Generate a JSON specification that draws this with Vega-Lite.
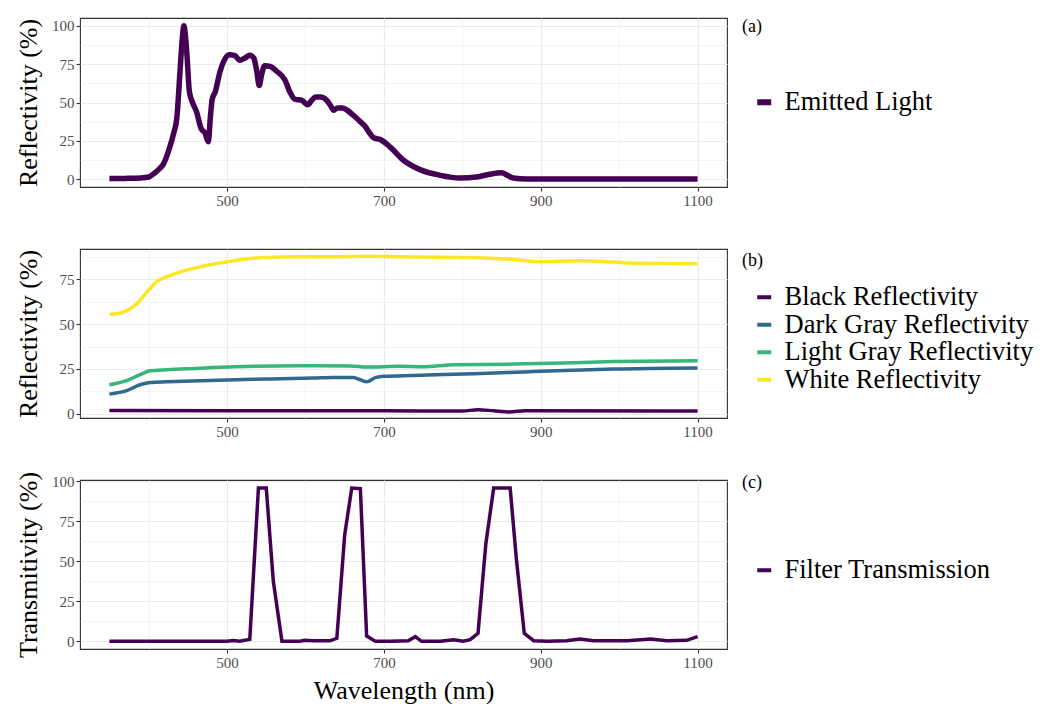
{
  "$schema": "https://vega.github.io/schema/vega-lite/v6.json",
  "background": "white",
  "padding": {"left": 14, "top": 14, "right": 5, "bottom": 0},
  "datasets": {
    "emit": [
      {"wl": 350, "value": 0.5, "series": "Emitted Light"},
      {"wl": 370, "value": 0.6, "series": "Emitted Light"},
      {"wl": 390, "value": 0.9, "series": "Emitted Light"},
      {"wl": 400, "value": 1.5, "series": "Emitted Light"},
      {"wl": 406, "value": 3.5, "series": "Emitted Light"},
      {"wl": 413, "value": 6.5, "series": "Emitted Light"},
      {"wl": 419, "value": 10, "series": "Emitted Light"},
      {"wl": 427, "value": 21, "series": "Emitted Light"},
      {"wl": 432, "value": 30, "series": "Emitted Light"},
      {"wl": 436, "value": 40, "series": "Emitted Light"},
      {"wl": 440, "value": 70, "series": "Emitted Light"},
      {"wl": 443, "value": 92, "series": "Emitted Light"},
      {"wl": 445, "value": 100, "series": "Emitted Light"},
      {"wl": 447, "value": 93, "series": "Emitted Light"},
      {"wl": 449, "value": 80, "series": "Emitted Light"},
      {"wl": 452, "value": 57, "series": "Emitted Light"},
      {"wl": 456, "value": 50, "series": "Emitted Light"},
      {"wl": 461, "value": 44, "series": "Emitted Light"},
      {"wl": 467, "value": 33, "series": "Emitted Light"},
      {"wl": 472, "value": 30, "series": "Emitted Light"},
      {"wl": 476, "value": 24.5, "series": "Emitted Light"},
      {"wl": 479, "value": 42, "series": "Emitted Light"},
      {"wl": 481, "value": 52, "series": "Emitted Light"},
      {"wl": 485, "value": 57, "series": "Emitted Light"},
      {"wl": 491, "value": 70, "series": "Emitted Light"},
      {"wl": 497, "value": 78, "series": "Emitted Light"},
      {"wl": 503, "value": 81, "series": "Emitted Light"},
      {"wl": 510, "value": 80.5, "series": "Emitted Light"},
      {"wl": 516, "value": 77.5, "series": "Emitted Light"},
      {"wl": 523, "value": 79, "series": "Emitted Light"},
      {"wl": 529, "value": 80.8, "series": "Emitted Light"},
      {"wl": 534, "value": 79, "series": "Emitted Light"},
      {"wl": 538, "value": 70, "series": "Emitted Light"},
      {"wl": 541, "value": 61, "series": "Emitted Light"},
      {"wl": 544, "value": 68, "series": "Emitted Light"},
      {"wl": 548, "value": 74, "series": "Emitted Light"},
      {"wl": 555, "value": 73.5, "series": "Emitted Light"},
      {"wl": 563, "value": 70.5, "series": "Emitted Light"},
      {"wl": 574, "value": 64.5, "series": "Emitted Light"},
      {"wl": 580, "value": 57, "series": "Emitted Light"},
      {"wl": 587, "value": 52, "series": "Emitted Light"},
      {"wl": 595, "value": 51.5, "series": "Emitted Light"},
      {"wl": 603, "value": 48.5, "series": "Emitted Light"},
      {"wl": 608, "value": 51.5, "series": "Emitted Light"},
      {"wl": 613, "value": 53.5, "series": "Emitted Light"},
      {"wl": 619, "value": 53.5, "series": "Emitted Light"},
      {"wl": 627, "value": 51.5, "series": "Emitted Light"},
      {"wl": 632, "value": 48, "series": "Emitted Light"},
      {"wl": 636, "value": 45, "series": "Emitted Light"},
      {"wl": 641, "value": 46.5, "series": "Emitted Light"},
      {"wl": 647, "value": 46.5, "series": "Emitted Light"},
      {"wl": 653, "value": 45, "series": "Emitted Light"},
      {"wl": 661, "value": 41.7, "series": "Emitted Light"},
      {"wl": 669, "value": 38, "series": "Emitted Light"},
      {"wl": 676, "value": 34.5, "series": "Emitted Light"},
      {"wl": 682, "value": 30, "series": "Emitted Light"},
      {"wl": 687, "value": 27, "series": "Emitted Light"},
      {"wl": 695, "value": 26, "series": "Emitted Light"},
      {"wl": 708, "value": 21, "series": "Emitted Light"},
      {"wl": 725, "value": 12.4, "series": "Emitted Light"},
      {"wl": 746, "value": 6.3, "series": "Emitted Light"},
      {"wl": 772, "value": 2.6, "series": "Emitted Light"},
      {"wl": 797, "value": 0.9, "series": "Emitted Light"},
      {"wl": 818, "value": 1.5, "series": "Emitted Light"},
      {"wl": 835, "value": 3.3, "series": "Emitted Light"},
      {"wl": 850, "value": 4.2, "series": "Emitted Light"},
      {"wl": 858, "value": 2.5, "series": "Emitted Light"},
      {"wl": 865, "value": 0.8, "series": "Emitted Light"},
      {"wl": 882, "value": 0.2, "series": "Emitted Light"},
      {"wl": 900, "value": 0.2, "series": "Emitted Light"},
      {"wl": 950, "value": 0.2, "series": "Emitted Light"},
      {"wl": 1000, "value": 0.2, "series": "Emitted Light"},
      {"wl": 1050, "value": 0.2, "series": "Emitted Light"},
      {"wl": 1100, "value": 0.2, "series": "Emitted Light"}
    ],
    "refl": [
      {"wl": 350, "value": 1.9, "series": "Black Reflectivity"},
      {"wl": 500, "value": 1.8, "series": "Black Reflectivity"},
      {"wl": 700, "value": 1.7, "series": "Black Reflectivity"},
      {"wl": 800, "value": 1.6, "series": "Black Reflectivity"},
      {"wl": 820, "value": 2.3, "series": "Black Reflectivity"},
      {"wl": 840, "value": 1.7, "series": "Black Reflectivity"},
      {"wl": 860, "value": 1.1, "series": "Black Reflectivity"},
      {"wl": 880, "value": 1.7, "series": "Black Reflectivity"},
      {"wl": 1100, "value": 1.6, "series": "Black Reflectivity"},
      {"wl": 350, "value": 11, "series": "Dark Gray Reflectivity"},
      {"wl": 372, "value": 12.9, "series": "Dark Gray Reflectivity"},
      {"wl": 389, "value": 16.2, "series": "Dark Gray Reflectivity"},
      {"wl": 402, "value": 17.5, "series": "Dark Gray Reflectivity"},
      {"wl": 423, "value": 17.9, "series": "Dark Gray Reflectivity"},
      {"wl": 466, "value": 18.5, "series": "Dark Gray Reflectivity"},
      {"wl": 551, "value": 19.4, "series": "Dark Gray Reflectivity"},
      {"wl": 610, "value": 20, "series": "Dark Gray Reflectivity"},
      {"wl": 636, "value": 20.3, "series": "Dark Gray Reflectivity"},
      {"wl": 661, "value": 20.3, "series": "Dark Gray Reflectivity"},
      {"wl": 670, "value": 19, "series": "Dark Gray Reflectivity"},
      {"wl": 678, "value": 17.9, "series": "Dark Gray Reflectivity"},
      {"wl": 690, "value": 20.3, "series": "Dark Gray Reflectivity"},
      {"wl": 700, "value": 20.9, "series": "Dark Gray Reflectivity"},
      {"wl": 737, "value": 21.4, "series": "Dark Gray Reflectivity"},
      {"wl": 801, "value": 22.2, "series": "Dark Gray Reflectivity"},
      {"wl": 857, "value": 23, "series": "Dark Gray Reflectivity"},
      {"wl": 899, "value": 23.7, "series": "Dark Gray Reflectivity"},
      {"wl": 993, "value": 25, "series": "Dark Gray Reflectivity"},
      {"wl": 1100, "value": 25.6, "series": "Dark Gray Reflectivity"},
      {"wl": 350, "value": 16.2, "series": "Light Gray Reflectivity"},
      {"wl": 372, "value": 18.5, "series": "Light Gray Reflectivity"},
      {"wl": 389, "value": 21.8, "series": "Light Gray Reflectivity"},
      {"wl": 402, "value": 24, "series": "Light Gray Reflectivity"},
      {"wl": 423, "value": 24.6, "series": "Light Gray Reflectivity"},
      {"wl": 466, "value": 25.4, "series": "Light Gray Reflectivity"},
      {"wl": 508, "value": 26.3, "series": "Light Gray Reflectivity"},
      {"wl": 593, "value": 26.8, "series": "Light Gray Reflectivity"},
      {"wl": 657, "value": 26.7, "series": "Light Gray Reflectivity"},
      {"wl": 678, "value": 26.1, "series": "Light Gray Reflectivity"},
      {"wl": 721, "value": 26.5, "series": "Light Gray Reflectivity"},
      {"wl": 750, "value": 26.2, "series": "Light Gray Reflectivity"},
      {"wl": 789, "value": 27.4, "series": "Light Gray Reflectivity"},
      {"wl": 865, "value": 27.7, "series": "Light Gray Reflectivity"},
      {"wl": 899, "value": 28, "series": "Light Gray Reflectivity"},
      {"wl": 993, "value": 29.1, "series": "Light Gray Reflectivity"},
      {"wl": 1100, "value": 29.6, "series": "Light Gray Reflectivity"},
      {"wl": 350, "value": 55.4, "series": "White Reflectivity"},
      {"wl": 368, "value": 56.7, "series": "White Reflectivity"},
      {"wl": 385, "value": 61.4, "series": "White Reflectivity"},
      {"wl": 398, "value": 67.9, "series": "White Reflectivity"},
      {"wl": 410, "value": 73.5, "series": "White Reflectivity"},
      {"wl": 423, "value": 76.3, "series": "White Reflectivity"},
      {"wl": 444, "value": 79.5, "series": "White Reflectivity"},
      {"wl": 466, "value": 81.9, "series": "White Reflectivity"},
      {"wl": 500, "value": 84.7, "series": "White Reflectivity"},
      {"wl": 542, "value": 86.9, "series": "White Reflectivity"},
      {"wl": 593, "value": 87.5, "series": "White Reflectivity"},
      {"wl": 636, "value": 87.5, "series": "White Reflectivity"},
      {"wl": 678, "value": 87.7, "series": "White Reflectivity"},
      {"wl": 720, "value": 87.5, "series": "White Reflectivity"},
      {"wl": 801, "value": 87.1, "series": "White Reflectivity"},
      {"wl": 865, "value": 86, "series": "White Reflectivity"},
      {"wl": 899, "value": 84.7, "series": "White Reflectivity"},
      {"wl": 950, "value": 85.2, "series": "White Reflectivity"},
      {"wl": 993, "value": 84.5, "series": "White Reflectivity"},
      {"wl": 1027, "value": 83.8, "series": "White Reflectivity"},
      {"wl": 1100, "value": 83.6, "series": "White Reflectivity"}
    ],
    "filt": [
      {"wl": 350, "value": 0, "series": "Filter Transmission"},
      {"wl": 400, "value": 0, "series": "Filter Transmission"},
      {"wl": 450, "value": 0, "series": "Filter Transmission"},
      {"wl": 500, "value": 0, "series": "Filter Transmission"},
      {"wl": 508, "value": 0.5, "series": "Filter Transmission"},
      {"wl": 516, "value": 0, "series": "Filter Transmission"},
      {"wl": 529, "value": 1.2, "series": "Filter Transmission"},
      {"wl": 540, "value": 95.8, "series": "Filter Transmission"},
      {"wl": 550, "value": 95.8, "series": "Filter Transmission"},
      {"wl": 559, "value": 37.5, "series": "Filter Transmission"},
      {"wl": 570, "value": 0, "series": "Filter Transmission"},
      {"wl": 593, "value": 0, "series": "Filter Transmission"},
      {"wl": 599, "value": 0.7, "series": "Filter Transmission"},
      {"wl": 610, "value": 0.3, "series": "Filter Transmission"},
      {"wl": 631, "value": 0.3, "series": "Filter Transmission"},
      {"wl": 640, "value": 1.9, "series": "Filter Transmission"},
      {"wl": 650, "value": 66.5, "series": "Filter Transmission"},
      {"wl": 659, "value": 95.8, "series": "Filter Transmission"},
      {"wl": 670, "value": 95.4, "series": "Filter Transmission"},
      {"wl": 678, "value": 3.3, "series": "Filter Transmission"},
      {"wl": 689, "value": 0, "series": "Filter Transmission"},
      {"wl": 708, "value": 0, "series": "Filter Transmission"},
      {"wl": 731, "value": 0.4, "series": "Filter Transmission"},
      {"wl": 740, "value": 2.9, "series": "Filter Transmission"},
      {"wl": 748, "value": 0, "series": "Filter Transmission"},
      {"wl": 772, "value": 0, "series": "Filter Transmission"},
      {"wl": 789, "value": 1, "series": "Filter Transmission"},
      {"wl": 801, "value": 0, "series": "Filter Transmission"},
      {"wl": 810, "value": 1, "series": "Filter Transmission"},
      {"wl": 820, "value": 5, "series": "Filter Transmission"},
      {"wl": 830, "value": 61, "series": "Filter Transmission"},
      {"wl": 840, "value": 95.8, "series": "Filter Transmission"},
      {"wl": 861, "value": 95.8, "series": "Filter Transmission"},
      {"wl": 869, "value": 51, "series": "Filter Transmission"},
      {"wl": 879, "value": 5, "series": "Filter Transmission"},
      {"wl": 891, "value": 0.4, "series": "Filter Transmission"},
      {"wl": 908, "value": 0, "series": "Filter Transmission"},
      {"wl": 933, "value": 0.4, "series": "Filter Transmission"},
      {"wl": 950, "value": 1.5, "series": "Filter Transmission"},
      {"wl": 967, "value": 0.4, "series": "Filter Transmission"},
      {"wl": 1010, "value": 0.4, "series": "Filter Transmission"},
      {"wl": 1040, "value": 1.5, "series": "Filter Transmission"},
      {"wl": 1061, "value": 0.4, "series": "Filter Transmission"},
      {"wl": 1086, "value": 0.6, "series": "Filter Transmission"},
      {"wl": 1100, "value": 2.9, "series": "Filter Transmission"}
    ]
  },
  "spacing": 62,
  "bounds": "flush",
  "resolve": {
    "scale": {"color": "independent", "x": "independent", "y": "independent"},
    "legend": {"color": "independent"}
  },
  "vconcat": [
    {
      "width": 647,
      "height": 169,
      "title": {"text": "(a)", "anchor": "end", "align": "left", "dx": 15, "offset": 0, "dy": 21, "frame": "group"},
      "data": {"name": "emit"},
      "mark": {"type": "line", "strokeWidth": 5.5, "interpolate": "monotone"},
      "encoding": {
        "x": {
          "field": "wl", "type": "quantitative",
          "scale": {"domain": [312.5, 1137.5], "nice": false, "zero": false},
          "axis": {
            "title": null, "format": "d",
            "values": [400, 500, 600, 700, 800, 900, 1000, 1100],
            "labelExpr": "datum.value % 200 == 100 ? datum.label : ''",
            "tickOpacity": {"condition": {"test": "datum.value % 200 == 100", "value": 1}, "value": 0},
            "gridWidth": {"condition": {"test": "datum.value % 200 == 100", "value": 1.1}, "value": 0.55},
            "labelFlush": false, "labelOverlap": false
          }
        },
        "y": {
          "field": "value", "type": "quantitative",
          "scale": {"domain": [-5, 105], "nice": false, "zero": false},
          "axis": {
            "title": "Reflectivity (%)",
            "titlePadding": 10,
            "values": [0, 12.5, 25, 37.5, 50, 62.5, 75, 87.5, 100],
            "labelExpr": "datum.value % 25 == 0 ? datum.label : ''",
            "tickOpacity": {"condition": {"test": "datum.value % 25 == 0", "value": 1}, "value": 0},
            "gridWidth": {"condition": {"test": "datum.value % 25 == 0", "value": 1.1}, "value": 0.55},
            "labelOverlap": false
          }
        },
        "color": {
          "field": "series", "type": "nominal",
          "scale": {"domain": ["Emitted Light"], "range": ["#440154"]},
          "legend": {"title": null, "orient": "none", "legendX": 671, "legendY": 71, "symbolStrokeWidth": 6}
        }
      }
    },
    {
      "width": 647,
      "height": 169,
      "title": {"text": "(b)", "anchor": "end", "align": "left", "dx": 15, "offset": 0, "dy": 21, "frame": "group"},
      "data": {"name": "refl"},
      "mark": {"type": "line", "strokeWidth": 3.5, "interpolate": "monotone"},
      "encoding": {
        "x": {
          "field": "wl", "type": "quantitative",
          "scale": {"domain": [312.5, 1137.5], "nice": false, "zero": false},
          "axis": {
            "title": null, "format": "d",
            "values": [400, 500, 600, 700, 800, 900, 1000, 1100],
            "labelExpr": "datum.value % 200 == 100 ? datum.label : ''",
            "tickOpacity": {"condition": {"test": "datum.value % 200 == 100", "value": 1}, "value": 0},
            "gridWidth": {"condition": {"test": "datum.value % 200 == 100", "value": 1.1}, "value": 0.55},
            "labelFlush": false, "labelOverlap": false
          }
        },
        "y": {
          "field": "value", "type": "quantitative",
          "scale": {"domain": [-2.3, 91.8], "nice": false, "zero": false},
          "axis": {
            "title": "Reflectivity (%)",
            "titlePadding": 17.5,
            "values": [0, 12.5, 25, 37.5, 50, 62.5, 75, 87.5],
            "labelExpr": "datum.value % 25 == 0 ? datum.label : ''",
            "tickOpacity": {"condition": {"test": "datum.value % 25 == 0", "value": 1}, "value": 0},
            "gridWidth": {"condition": {"test": "datum.value % 25 == 0", "value": 1.1}, "value": 0.55},
            "labelOverlap": false
          }
        },
        "color": {
          "field": "series", "type": "nominal",
          "scale": {"domain": ["Black Reflectivity", "Dark Gray Reflectivity", "Light Gray Reflectivity", "White Reflectivity"], "range": ["#440154", "#31688E", "#35B779", "#FDE725"]},
          "legend": {"title": null, "orient": "none", "legendX": 671, "legendY": 35, "rowPadding": 0.5, "symbolStrokeWidth": 4}
        }
      }
    },
    {
      "width": 647,
      "height": 169,
      "title": {"text": "(c)", "anchor": "end", "align": "left", "dx": 15, "offset": 0, "dy": 21, "frame": "group"},
      "data": {"name": "filt"},
      "mark": {"type": "line", "strokeWidth": 3.5},
      "encoding": {
        "x": {
          "field": "wl", "type": "quantitative",
          "scale": {"domain": [312.5, 1137.5], "nice": false, "zero": false},
          "axis": {
            "title": "Wavelength (nm)", "format": "d",
            "titlePadding": 7,
            "values": [400, 500, 600, 700, 800, 900, 1000, 1100],
            "labelExpr": "datum.value % 200 == 100 ? datum.label : ''",
            "tickOpacity": {"condition": {"test": "datum.value % 200 == 100", "value": 1}, "value": 0},
            "gridWidth": {"condition": {"test": "datum.value % 200 == 100", "value": 1.1}, "value": 0.55},
            "labelFlush": false, "labelOverlap": false
          }
        },
        "y": {
          "field": "value", "type": "quantitative",
          "scale": {"domain": [-4.8, 100.8], "nice": false, "zero": false},
          "axis": {
            "title": "Transmitivity (%)",
            "titlePadding": 10,
            "values": [0, 12.5, 25, 37.5, 50, 62.5, 75, 87.5, 100],
            "labelExpr": "datum.value % 25 == 0 ? datum.label : ''",
            "tickOpacity": {"condition": {"test": "datum.value % 25 == 0", "value": 1}, "value": 0},
            "gridWidth": {"condition": {"test": "datum.value % 25 == 0", "value": 1.1}, "value": 0.55},
            "labelOverlap": false
          }
        },
        "color": {
          "field": "series", "type": "nominal",
          "scale": {"domain": ["Filter Transmission"], "range": ["#440154"]},
          "legend": {"title": null, "orient": "none", "legendX": 671, "legendY": 77, "symbolStrokeWidth": 4}
        }
      }
    }
  ],
  "config": {
    "font": "Liberation Serif",
    "view": {"stroke": "#333333", "strokeWidth": 1.1},
    "axis": {
      "domain": false,
      "tickColor": "#333333",
      "tickSize": 4,
      "tickWidth": 1.1,
      "labelColor": "#4D4D4D",
      "labelFontSize": 15,
      "labelFont": "Liberation Serif",
      "labelPadding": 2,
      "titleFont": "Liberation Serif",
      "titleFontSize": 26,
      "titleFontWeight": "normal",
      "titleColor": "#000000",
      "gridColor": "#EBEBEB"
    },
    "legend": {
      "labelFont": "Liberation Serif",
      "labelFontSize": 26.5,
      "labelColor": "#000000",
      "labelLimit": 400,
      "symbolType": "stroke",
      "symbolSize": 196,
      "labelOffset": 7,
      "rowPadding": 0,
      "padding": 0
    },
    "title": {"font": "Liberation Serif", "fontSize": 18, "fontWeight": "normal", "color": "#000000"}
  }
}
